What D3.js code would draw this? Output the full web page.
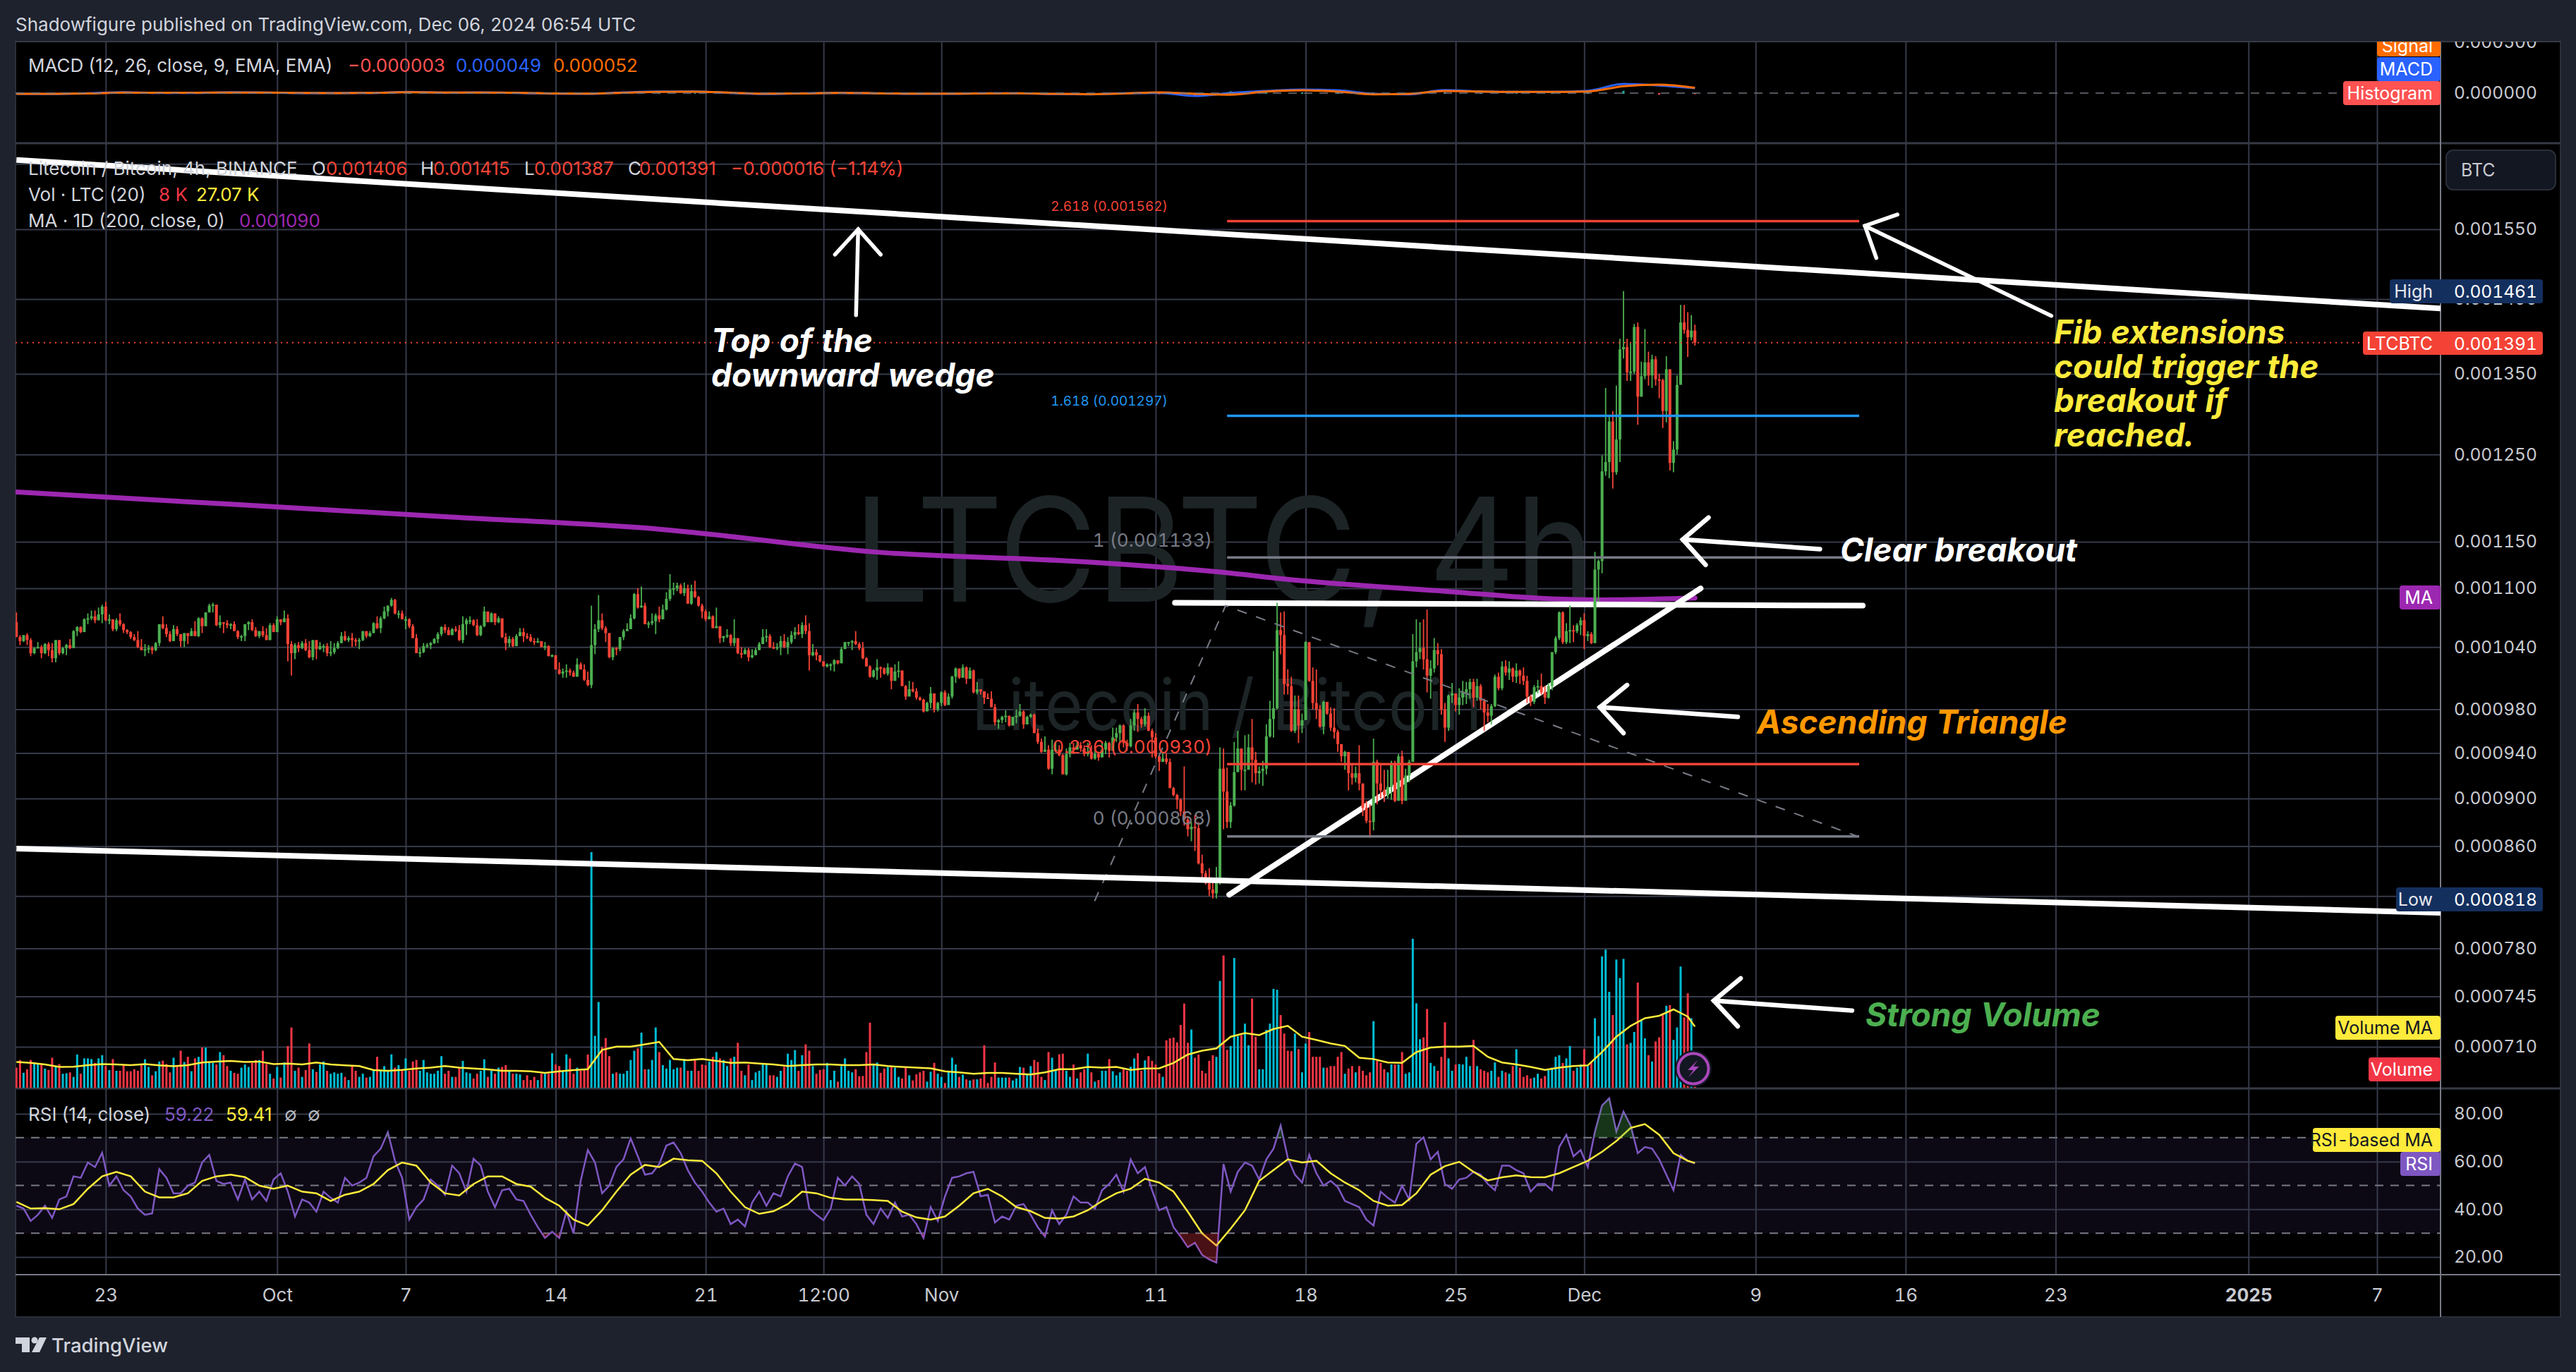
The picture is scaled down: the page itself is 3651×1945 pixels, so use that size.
<!DOCTYPE html>
<html>
<head>
<meta charset="utf-8">
<script src="https://cdn.jsdelivr.net/npm/d3@7"></script>
<style>
  html, body { margin: 0; padding: 0; background: #1e222d; }
  svg { display: block; }
  text { font-family: Inter, "Noto Sans", sans-serif; font-variant-numeric: tabular-nums; }
  text.legend { font-variant-numeric: normal; }
</style>
</head>
<body>
<svg id="chart" width="3651" height="1945"></svg>
<script>
// all prices in millionths of a BTC, volume in thousand LTC
var firstOpen = 1065;
var closes = [
1050,1046,1052,1047,1034,1039,1040,1034,1043,1037,
1029,1047,1034,1039,1042,1039,1056,1060,1055,1068,
1069,1071,1067,1073,1081,1067,1068,1058,1067,1063,
1057,1055,1050,1047,1040,1037,1038,1039,1037,1044,
1063,1059,1053,1046,1058,1053,1046,1054,1051,1056,
1051,1069,1061,1075,1082,1083,1062,1065,1064,1062,
1063,1056,1050,1051,1063,1065,1057,1051,1056,1052,
1047,1062,1055,1068,1065,1069,1043,1034,1042,1039,
1044,1037,1030,1047,1038,1041,1041,1034,1035,1039,
1044,1051,1047,1049,1047,1046,1047,1056,1051,1054,
1064,1059,1069,1076,1082,1088,1074,1074,1068,1068,
1061,1049,1034,1035,1041,1042,1044,1048,1053,1060,
1057,1052,1058,1057,1047,1063,1067,1067,1062,1052,
1061,1076,1065,1074,1065,1069,1050,1044,1048,1041,
1051,1055,1051,1050,1046,1045,1046,1040,1041,1031,
1032,1018,1014,1016,1017,1015,1011,1023,1018,1008,
1003,1042,1058,1067,1059,1054,1030,1039,1038,1050,
1056,1058,1069,1094,1080,1082,1063,1064,1066,1072,
1068,1078,1089,1099,1100,1103,1095,1100,1084,1097,
1091,1082,1076,1068,1071,1059,1061,1049,1051,1052,
1044,1049,1034,1033,1037,1030,1032,1037,1043,1050,
1051,1040,1039,1040,1046,1040,1045,1052,1055,1053,
1062,1056,1032,1035,1032,1026,1021,1023,1023,1027,
1024,1038,1045,1045,1046,1043,1039,1029,1021,1011,
1017,1020,1019,1014,1020,1007,1016,1017,1002,992,
999,997,991,989,978,986,995,980,986,996,
984,992,1011,1019,1010,1020,1009,1017,996,999,
997,991,990,982,968,970,973,974,965,973,
974,978,966,973,975,958,950,941,943,926,
943,943,938,921,939,945,943,947,944,939,
941,935,939,936,943,949,942,954,958,965,
949,946,965,977,971,966,974,960,954,937,
932,935,932,909,903,899,889,882,874,876,
875,846,838,830,825,822,834,926,906,880,
894,923,944,925,925,945,934,922,924,926,
955,971,981,1057,1052,1004,1002,960,980,965,
970,1045,1007,986,980,964,987,976,963,959,
948,937,941,922,918,922,913,892,881,880,
932,913,907,903,910,931,898,937,898,920,
932,1026,1035,1039,1028,1012,1019,1037,1033,980,
963,993,995,984,991,996,999,1006,991,1002,
988,977,974,983,1011,1000,1021,1015,1019,1011,
1017,1012,1007,992,987,1001,1002,996,991,1002,
1035,1049,1075,1045,1056,1057,1056,1062,1067,1051,
1053,1044,1120,1129,1230,1241,1290,1229,1268,1382,
1385,1352,1353,1412,1321,1347,1365,1348,1369,1343,
1342,1303,1356,1240,1256,1336,1418,1408,1398,1407,
1391];
var highs = [
1075,1052,1052,1054,1049,1040,1045,1042,1044,1045,
1044,1047,1047,1040,1043,1048,1057,1061,1061,1069,
1074,1077,1077,1080,1083,1086,1073,1067,1069,1074,
1064,1058,1056,1053,1056,1048,1043,1042,1041,1045,
1063,1071,1063,1056,1062,1061,1051,1054,1053,1059,
1066,1070,1070,1075,1084,1085,1083,1072,1065,1067,
1064,1066,1057,1052,1063,1066,1068,1060,1056,1061,
1059,1064,1064,1071,1068,1077,1073,1046,1044,1045,
1046,1048,1046,1047,1047,1045,1043,1044,1046,1044,
1046,1055,1056,1051,1054,1049,1049,1056,1056,1056,
1065,1071,1071,1081,1082,1090,1089,1077,1077,1071,
1069,1063,1053,1039,1044,1044,1045,1049,1055,1061,
1063,1060,1059,1061,1062,1071,1069,1071,1068,1068,
1062,1081,1076,1075,1074,1071,1065,1054,1051,1050,
1053,1059,1059,1054,1053,1049,1049,1045,1045,1042,
1033,1032,1025,1019,1023,1019,1017,1029,1025,1023,
1016,1082,1063,1093,1074,1061,1054,1040,1040,1050,
1058,1064,1073,1095,1100,1102,1085,1066,1074,1074,
1081,1083,1096,1115,1106,1106,1105,1106,1104,1104,
1108,1092,1084,1078,1076,1072,1080,1061,1051,1058,
1053,1068,1048,1040,1039,1039,1038,1039,1045,1058,
1058,1053,1045,1044,1051,1053,1050,1056,1060,1063,
1065,1072,1064,1043,1038,1032,1026,1024,1024,1028,
1027,1040,1045,1045,1047,1056,1045,1045,1030,1022,
1018,1028,1021,1020,1024,1020,1023,1026,1017,1003,
1007,1006,1000,992,990,987,1001,995,987,997,
998,995,1012,1020,1018,1023,1021,1020,1018,1006,
999,997,995,997,985,971,974,979,974,973,
980,985,979,974,976,976,962,953,955,947,
952,950,947,939,944,949,949,951,950,947,
949,947,944,941,950,951,950,963,963,966,
966,952,971,980,985,973,981,977,962,958,
938,941,940,935,910,904,900,928,884,880,
886,880,853,840,842,834,843,945,944,927,
897,950,960,944,956,957,971,941,928,933,
966,988,1036,1085,1075,1076,1018,1011,993,993,
976,1046,1044,1020,1018,984,988,987,982,981,
961,948,942,938,929,928,947,913,898,895,
953,934,931,925,925,933,933,939,942,926,
934,1053,1068,1065,1068,1078,1027,1049,1044,1038,
986,994,1005,995,1000,1007,1006,1009,1009,1009,
1004,990,985,985,1013,1015,1026,1027,1026,1020,
1024,1018,1020,1012,994,1003,1008,1014,1002,1005,
1035,1051,1076,1076,1064,1082,1062,1064,1070,1074,
1056,1055,1139,1131,1249,1332,1297,1303,1335,1396,
1461,1396,1391,1416,1418,1366,1409,1379,1375,1373,
1350,1344,1373,1356,1266,1348,1442,1442,1432,1428,
1415];
var lows = [
1050,1042,1045,1042,1031,1033,1039,1029,1033,1031,
1025,1025,1032,1033,1032,1038,1040,1051,1054,1056,
1063,1067,1064,1067,1064,1066,1063,1056,1056,1061,
1054,1053,1048,1046,1039,1037,1031,1034,1033,1036,
1041,1058,1050,1045,1046,1051,1040,1040,1043,1052,
1051,1050,1054,1061,1075,1075,1061,1059,1054,1059,
1058,1056,1048,1046,1046,1057,1056,1050,1049,1050,
1047,1047,1055,1055,1062,1065,1026,1012,1028,1035,
1038,1036,1029,1027,1028,1037,1035,1031,1031,1033,
1038,1044,1046,1045,1040,1041,1038,1046,1049,1050,
1054,1058,1054,1068,1071,1081,1073,1069,1068,1058,
1059,1049,1034,1030,1034,1039,1038,1043,1044,1051,
1054,1052,1052,1055,1046,1044,1052,1063,1061,1051,
1051,1060,1065,1065,1062,1064,1049,1037,1040,1040,
1041,1051,1045,1048,1045,1042,1044,1040,1037,1031,
1030,1018,1013,1010,1010,1012,1011,1011,1018,1007,
1002,1000,1033,1055,1057,1045,1029,1027,1032,1036,
1047,1057,1058,1068,1079,1080,1063,1059,1062,1053,
1065,1068,1077,1087,1093,1097,1094,1092,1084,1083,
1090,1081,1069,1066,1068,1059,1059,1044,1045,1049,
1041,1041,1033,1029,1033,1026,1029,1032,1037,1043,
1045,1039,1038,1037,1032,1039,1033,1043,1048,1052,
1049,1053,1017,1031,1027,1025,1021,1020,1017,1016,
1023,1025,1039,1041,1037,1042,1037,1028,1021,1010,
1010,1008,1010,1013,1012,999,1007,1010,1002,989,
994,996,989,988,977,979,981,977,978,983,
983,985,990,1005,1009,1011,1004,1010,995,994,
994,985,990,982,965,962,967,968,964,965,
967,973,962,966,972,958,948,940,941,925,
921,941,937,921,920,936,939,943,941,937,
937,934,934,933,938,939,936,943,950,949,
945,942,945,960,959,963,964,960,936,935,
924,932,930,909,902,891,885,877,868,864,
856,845,834,829,820,818,818,829,874,875,
875,893,923,907,907,927,914,912,913,911,
921,954,954,980,1033,994,994,959,958,949,
958,970,1006,980,971,963,957,975,960,953,
941,932,925,907,912,914,907,885,879,867,
873,895,900,897,900,899,897,899,895,900,
914,932,1020,1028,1018,996,990,1015,1022,975,
950,960,986,978,975,984,985,990,982,988,
980,960,968,966,982,998,998,1012,1008,1006,
1005,1004,1003,986,983,985,995,994,985,990,
998,1033,1047,1043,1043,1044,1045,1054,1052,1038,
1046,1043,1044,1086,1116,1225,1222,1210,1226,1241,
1370,1341,1341,1350,1286,1321,1343,1335,1332,1335,
1319,1282,1289,1231,1229,1250,1346,1403,1372,1394,
1387];
var volumes = [
8.9,12.3,6.6,8.2,12.3,11,10.3,10.3,8.5,7.9,
13.3,9.6,10.5,6.2,6.4,6.8,4.8,14.7,6.2,13,
13,12.7,11,13,14.4,9.6,7.8,12.7,7.5,7.5,
10,7.3,7.3,8.2,7.5,10,12.6,9.2,5.5,7.3,
11.6,12,10.5,6.8,13.3,10,16.4,11.4,13.7,7.3,
13,13.7,17.8,17.8,11.6,11,10.3,15.8,14.4,9.6,
7.5,6.6,6.2,8.9,10.3,9.2,11,12.3,12.3,16.4,
10.5,6.2,4.1,9.2,4.5,11.2,18.5,26.7,7.5,8.9,
4.8,7.8,19.6,8.2,
7,10.3,11.6,7.5,6.2,6.8,6.2,6.6,4.8,3.4,9.6,
7.5,4.8,6.2,4.5,4.8,7.5,13.7,7.5,9.6,7.5,
14.8,8.9,10,7.5,13,7.5,11.6,12.3,7.5,12.3,
6.8,6.2,6.2,7.5,14,6.2,7.5,4.8,4.8,8.9,
11.9,6.8,6.4,4.1,6.2,7.5,12.6,4.8,7.5,6.2,
8.9,9.2,10,7.5,6.2,6.2,5.9,3.4,5.5,3.4,
4.8,3.4,6.2,6.2,6.2,15.3,10.3,9.6,7.5,14.8,
13,6.2,8.9,7.5,8.2,14.7,
104.4,
23,38,18,22,14,6.2,6.8,6.2,6.2,7.5,
12.3,16.4,17.4,24.4,8.2,8.2,12.3,26.7,15.8,10,
8.5,12.3,8.2,8.9,8.9,12.7,7.5,7.5,12.3,7.5,
10.3,10,11.6,13.7,15.8,13,12.3,9.6,13,13.7,
19.9,7.5,5.5,10.3,3.4,6.8,7.5,10.3,10.3,5.5,
5.5,4.8,7.5,9.2,15.1,12.3,16.7,7.5,14.4,19.2,
16.4,9.6,6.2,7.9,8.2,11,3.4,7.5,2.7,9.6,13,
7.5,6.8,8.2,5.1,5.2,15.8,28.8,10.3,11.2,6.6,
8.5,9.2,9.6,8.9,4.8,4.1,9.2,5.5,3.2,5.9,
6.8,7.5,2.7,7.1,11,6.2,4.8,2.1,7.5,13.3,
10.3,4.8,5.8,3.7,3.2,3.7,3.7,4.1,18.8,2.1,
4.8,11.2,4.5,4.5,4.5,4.5,3.2,4.1,9.2,8.9,
6.2,9.6,12.3,11.4,4.8,3.4,15.8,13.3,7.5,14.8,
15.1,7.5,4.8,10.3,4.1,6.8,8.2,15.1,6.8,2.7,
3.4,7.5,7.5,12.7,7.3,5.5,6.8,8.2,7.5,9.3,
13,15.3,7.5,12.1,14,11.9,10.3,6.4,4.8,21,
21.9,22.2,20.1,27.8,37.3,19.9,25.8,13.3,14.7,7.5,
6.4,11.9,14.4,13.7,47.3,58.6,16.8,18.5,57.5,22.9,
23.3,28.4,18.8,39.5,22.6,8.2,8.2,25.6,28.4,43.8,
43.4,32.2,24,16.4,16.2,24,17.1,6.8,19.6,24.7,
13.7,13.7,13.7,8.9,8.9,9.6,9.6,13.7,15.8,6.2,
8.5,9.6,6.8,9.6,7.5,5.5,6.8,29.5,11.9,11,
8.2,6.8,10.3,10.3,10.3,15.8,6.2,6.8,66,37.4,
21.5,22.3,34.9,11,9.6,7.5,13.7,29,13,7.5,
10.3,10.5,10.3,13.7,9.6,21.2,9.6,8.2,7.5,6.8,
7.5,11.2,4.8,7.5,6.8,6.2,9.6,17.1,8.9,4.8,
5.5,4.1,4.5,6.2,4.1,5.2,7.8,8.9,13.7,14.4,
11,13,18.5,7.5,8.9,10.3,17.1,9.6,11.6,30.8,
22.9,58.2,61.2,42.5,32.2,56.8,48.6,57.1,19.2,19.9,
24.7,46.6,30.1,21.9,14.4,11.6,20.5,22.3,32.2,36.3,
36.6,21.2,26.7,53.7,31.2,41.8,30.8,8];
// read every 4th bar, last point is the legend value
var volumeMa = [
11.4,11,10.3,9.2,9.3,10,10.5,10.3,10,10.5,
9.9,9.5,10,11.2,11.6,11.9,11.4,11.6,10.5,10.7,
10.3,11.2,10.3,9.9,9.6,7.8,7.5,7.9,8.5,8.9,
9.6,8.9,8.5,8.1,7.5,7.5,7.3,6.6,7.3,7.8,
8.2,16.8,18.2,18.2,19.2,20.3,12.7,12.2,12.7,11.9,
11,11.2,10.7,10.3,9.6,10,10.3,10.3,10,
10,10.3,9.6,9.2,8.9,8.6,7.3,6.8,6.2,6.6,
6.6,6.2,5.9,6.8,8.2,8.2,9.2,8.9,9.2,7.9,
8.5,8.6,11,14.7,16.4,17.4,22.6,24.2,23.3,26,
27.4,22.6,21.2,19.6,18.5,13.3,12.7,11.2,11,15.8,
17.8,18.2,18.2,18.5,13.7,11.2,10.3,9.2,7.9,8.9,
9.6,9.9,15.8,22.6,27.4,30.8,31.9,34.7,31.5,27.07];
// read every 2nd bar
var rsi = [
41.5,40.3,35.1,37.7,41.5,36.4,44.1,45.4,53.8,53.2,
59.6,57.7,63.7,49.9,53.8,48,45.4,40.3,37.7,38.3,
56.8,53.2,46.7,46.7,49.9,51.2,59.6,62.8,51.9,50.6,
51.2,44.1,52.5,44.1,47.4,43.5,52.5,55.1,47.4,37,
44.1,42.8,39,47.4,44.8,42.8,53.2,49.9,51.2,53.2,
62.2,65.4,72.3,60.3,53.2,35.7,40.9,44.1,52.5,49.9,
46.1,58.3,55.1,47.4,61.2,58.3,47.4,40.9,48,48.6,
44.1,43.5,37.7,32.5,28,30.6,28,39,29.9,51.9,
64.8,59.6,46.7,49.9,57.7,61,69.7,62.2,54.5,55.1,
59,66.7,68,63.5,56.4,51.2,47.4,42.8,39,40.3,
33.8,35.7,32.8,42.8,47.4,41.5,46.7,45.4,53.8,59.2,
57.7,40.3,37.7,35.4,40.3,53.2,50,
53.8,50.6,37.7,33.8,40.3,36.4,42.8,37,37.7,33.8,
28,40.9,35.1,45.4,53.2,53.8,55.1,55.7,45.4,46.1,
34.5,37,35.7,41.5,42.2,37.7,32.5,28.6,39.6,33.8,
37.7,45.4,42.8,42.8,40.3,48,50.6,54.5,47.4,60.9,
55.1,57.7,48,39.6,40.9,32.5,28.6,24.1,26,20.9,
19,17.7,59,47.4,55.7,59.6,58.3,52.5,60.9,65.4,
75.1,61.5,54.5,51.2,62.8,55.1,49.9,51.9,49.3,43.5,
42.2,40.9,35.7,33.2,47.4,44.8,42.8,49.9,44.1,67.4,
70.2,60.9,64.1,50.6,48.6,52.5,53.2,55.7,54.5,50.6,
48,58.3,58.3,56.4,55.1,47.4,50.6,50.6,48,66.1,
71.2,62.2,64.8,57.7,72.5,83.5,86.5,72.5,80.9,
75.1,63.5,66.1,65.4,60.9,54.5,48,62.8,60.3,59.22];
// read every 4th bar, last point is the legend value
var rsiMa = [
43.1,40.3,40.5,40,42.2,48.6,53.8,55.7,53.8,47.4,
45,45,46.7,51.9,53.8,54.5,53.5,49.9,48.6,49.9,
47.4,46.7,43.5,46.1,47.4,50.6,56.4,59.6,58.3,51.2,
46.7,45.8,50.6,53.8,53.8,50.6,49.5,44.8,41.5,35.7,
33.2,39.6,47.4,54.5,58.6,57.7,61.2,60.6,60.3,55.1,
47.4,40.9,38.1,39.2,42.2,47.4,46.7,44.8,44.1,
44.1,43.9,43.5,39,36.6,35.7,37,41.5,46.7,48.6,
45.4,40.9,39.2,36.4,36.1,37,39.6,43.5,46.7,48.6,
52.8,51.2,47.4,39,29.9,24.8,31.9,39.6,51.9,56.4,
60.9,59.6,60.3,55.1,51.2,48,43.5,41.5,41.8,46.7,
54.5,58.1,59.9,55.7,52.1,53.4,54.2,53.5,53.4,55.1,
57.7,60.3,64.1,68.6,74.1,75.7,71.2,63.5,60.3,59.41];
// read every 10th bar, in millionths
var macd = [-7,-9,-2,9,2,2,9,5,0,0,2,12,5,7,2,-5,-7,7,16,16,2,-9,-2,2,-2,-7,-7,-2,-2,-9,-12,-2,2,-28,2,21,35,28,-7,-12,30,16,12,12,23,90,75,49];
var macdSignal = [-7,-7,-4,5,3,3,6,5,1,0,2,8,6,6,3,-3,-6,3,12,14,4,-6,-3,1,-1,-5,-6,-3,-2,-7,-10,-4,7,-7,-16,16,28,16,-12,-7,21,16,12,12,16,67,83,52];
// 1D moving average, picked at a few bars
var maBars = [0,60,120,180,240,300,335,360,400,430,442,470];
var maValues = [1206,1192,1178,1164,1139,1128,1118,1108,1097,1089,1088,1090];

var priceTicks = [1650,1550,1450,1350,1250,1150,1100,1040,980,940,900,860,820,780,745,710];
var rsiTicks = [20,40,60,80];
var rsiBands = [70,50,30];
var dateTicks = ["2024-09-23","2024-10-01","2024-10-07","2024-10-14","2024-10-21","2024-10-26T12:00Z","2024-11-01","2024-11-11","2024-11-18","2024-11-25","2024-12-01","2024-12-09","2024-12-16","2024-12-23","2025-01-01","2025-01-07"];
var dateLabels = ["23","Oct","7","14","21","12:00","Nov","11","18","25","Dec","9","16","23","2025","7"];

// fibonacci levels: level, price, colour
var fibLevels = ["2.618","1.618","1","0.236","0"];
var fibPrices = [1562,1297,1133,930,868];
var fibColors = ["#f44336","#2196f3","#787b86","#f44336","#787b86"];
var fibStartBar = 339, fibEndBar = 516;

// hand drawn lines as [bar, price]
var wedgeTop = [[0,1656],[678.8,1437]];
var wedgeBottom = [[0,858],[678.8,807]];
var triangleTop = [[324.4,1085],[517,1082]];
var triangleRise = [[339.6,821],[471.6,1100]];
var fibGuide = [[301.9,816],[338.6,1082],[515.6,868]];
// arrows: tail, tip, barb, barb
var arrows = [
  [[235.1,1428],[235.7,1550],[229.2,1513],[242,1513]],
  [[569.8,1427],[517.6,1555],[526.7,1572],[520.8,1508]],
  [[505,1142],[466.6,1152.6],[473.8,1177],[473,1125]],
  [[482,973],[443.4,982],[451,1003],[450,958]],
  [[514,735],[475.3,742],[482.8,758],[482,724]]
];

var left = 22, right = 3459, paneTop = 59, axisY = 1807, chartBottom = 1867, scaleRight = 3629;
var macdBottom = 203, mainBottom = 1543;
var fourHours = 4 * 3600 * 1000;
var firstBar = Date.UTC(2024, 8, 18, 20);

var green = "#4caf50", red = "#f44336", white = "#ffffff";
var gridColor = "#363a4a", lineGrey = "#787b86", labelColor = "#c8cad1";

var svg = d3.select("#chart");

var time = d3.scaleUtc().domain([new Date("2024-10-07"), new Date("2025-01-07")]).range([575, 3369]);
function barX(i) { return time(new Date(firstBar + i * fourHours)); }
var yPrice = d3.scaleLog().domain([1550, 710]).range([325, 1484]);
var yVolume = d3.scaleLinear().domain([0, 104.4]).range([1542, 1208]);
var yMacd = d3.scaleLinear().domain([0, 500]).range([132, 60]);
var yRsi = d3.scaleLinear().domain([20, 80]).range([1782, 1579]);

// backgrounds
svg.append("rect").attr("width", 3651).attr("height", 1945).attr("fill", "#1e222d");
svg.append("rect").attr("x", left).attr("y", paneTop).attr("width", scaleRight - left).attr("height", chartBottom - paneTop)
  .attr("fill", "#000").attr("stroke", "#2a2e39").attr("stroke-width", 2);

svg.append("defs").append("clipPath").attr("id", "paneClip").append("rect")
  .attr("x", left).attr("y", paneTop).attr("width", right - left).attr("height", axisY - paneTop);
svg.select("defs").append("clipPath").attr("id", "scaleClip").append("rect")
  .attr("x", left).attr("y", paneTop).attr("width", scaleRight - left).attr("height", chartBottom - paneTop);
svg.select("defs").append("clipPath").attr("id", "aboveBand").append("rect")
  .attr("x", left).attr("y", mainBottom).attr("width", right - left).attr("height", yRsi(70) - mainBottom);
svg.select("defs").append("clipPath").attr("id", "belowBand").append("rect")
  .attr("x", left).attr("y", yRsi(30)).attr("width", right - left).attr("height", axisY - yRsi(30));

// rsi band sits under the grid
svg.append("rect").attr("x", left).attr("y", yRsi(70)).attr("width", right - left).attr("height", yRsi(30) - yRsi(70))
  .attr("fill", "#7e57c2").attr("fill-opacity", 0.1);

// grid
function gridStyle(g) {
  g.select(".domain").remove();
  g.selectAll("line").attr("stroke", gridColor).attr("stroke-width", 2);
}
svg.append("g").attr("transform", "translate(0," + axisY + ")")
  .call(d3.axisBottom(time).tickValues(dateTicks.map(function(d){ return new Date(d); }))
    .tickFormat(function(d, i){ return dateLabels[i]; }).tickSize(-(axisY - paneTop)).tickPadding(20))
  .call(gridStyle)
  .call(function(g){
    g.selectAll("text").attr("font-size", 26).attr("fill", labelColor).attr("font-family", "Inter")
      .attr("font-weight", function(d, i){ return dateLabels[i] === "2025" ? 700 : 400; });
  });
svg.append("g").attr("transform", "translate(" + right + ",0)")
  .call(d3.axisLeft(yPrice).tickValues(priceTicks).tickSize(right - left).tickFormat(""))
  .call(gridStyle);
svg.append("g").attr("transform", "translate(" + right + ",0)")
  .call(d3.axisLeft(yRsi).tickValues(rsiTicks).tickSize(right - left).tickFormat(""))
  .call(gridStyle);

// rsi dashed levels
svg.append("g").selectAll("line").data(rsiBands).join("line")
  .attr("x1", left).attr("x2", right)
  .attr("y1", function(d){ return yRsi(d); }).attr("y2", function(d){ return yRsi(d); })
  .attr("stroke", lineGrey).attr("stroke-width", 2).attr("stroke-dasharray", "12 10");

// pane separators and scale edge
var seps = [macdBottom, mainBottom];
svg.append("g").selectAll("line").data(seps).join("line")
  .attr("x1", left).attr("x2", scaleRight).attr("y1", function(d){ return d; }).attr("y2", function(d){ return d; })
  .attr("stroke", "#363a45").attr("stroke-width", 3);
svg.append("line").attr("x1", left).attr("x2", scaleRight).attr("y1", axisY).attr("y2", axisY)
  .attr("stroke", lineGrey).attr("stroke-width", 2);
svg.append("line").attr("x1", right).attr("x2", right).attr("y1", paneTop).attr("y2", chartBottom)
  .attr("stroke", lineGrey).attr("stroke-width", 2);
svg.append("line").attr("x1", left).attr("x2", scaleRight).attr("y1", paneTop).attr("y2", paneTop)
  .attr("stroke", "#363a45").attr("stroke-width", 2);

// watermark
svg.append("text").attr("x", 1210).attr("y", 853).attr("font-size", 205)
  .attr("textLength", 1050).attr("lengthAdjust", "spacingAndGlyphs")
  .attr("fill", "#1c2426").text("LTCBTC, 4h");
svg.append("text").attr("x", 1377).attr("y", 1035).attr("font-size", 100)
  .attr("textLength", 723).attr("lengthAdjust", "spacingAndGlyphs")
  .attr("fill", "#1c2426").text("Litecoin / Bitcoin");

var pane = svg.append("g").attr("clip-path", "url(#paneClip)");
var priceLine = d3.line().x(function(d){ return barX(d[0]); }).y(function(d){ return yPrice(d[1]); });

// macd pane
svg.append("line").attr("x1", left).attr("x2", right).attr("y1", yMacd(0)).attr("y2", yMacd(0))
  .attr("stroke", lineGrey).attr("stroke-width", 2).attr("stroke-dasharray", "12 10").attr("stroke-opacity", 0.7);
pane.append("g").selectAll("rect").data(macd).join("rect")
  .attr("x", function(d, i){ return barX(i * 10) - 1.5; }).attr("width", 3)
  .attr("y", function(d, i){ return Math.min(yMacd(0), yMacd(d - macdSignal[i])); })
  .attr("height", function(d, i){ return Math.abs(yMacd(0) - yMacd(d - macdSignal[i])) + 1; })
  .attr("fill", function(d, i){ return d >= macdSignal[i] ? "#26a69a" : "#ff5252"; });
function macdPath(color, values) {
  pane.append("path").datum(values).attr("fill", "none").attr("stroke", color).attr("stroke-width", 3)
    .attr("d", d3.line().x(function(d, i){ return barX(i * 10); }).y(function(d){ return yMacd(d); }).curve(d3.curveMonotoneX));
}
macdPath("#2962ff", macd);
macdPath("#ff6d00", macdSignal);

// volume
pane.append("g").selectAll("rect").data(volumes).join("rect")
  .attr("x", function(d, i){ return barX(i) - 1.5; }).attr("width", 3)
  .attr("y", function(d){ return yVolume(d); }).attr("height", function(d){ return yVolume(0) - yVolume(d); })
  .attr("fill", function(d, i){ return closes[i] >= (i ? closes[i - 1] : firstOpen) ? "#00bcd4" : "#f23645"; });
function everyFourth(values) {
  return values.map(function(v, i){ return [i === values.length - 1 ? 470 : i * 4, v]; });
}
pane.append("path").datum(everyFourth(volumeMa)).attr("fill", "none").attr("stroke", "#ffeb3b").attr("stroke-width", 2.5)
  .attr("d", d3.line().x(function(d){ return barX(d[0]); }).y(function(d){ return yVolume(d[1]); }));

// drawings below the candles
pane.append("path").datum(d3.zip(maBars, maValues)).attr("fill", "none").attr("stroke", "#9c27b0")
  .attr("stroke-width", 7).attr("stroke-linecap", "round")
  .attr("d", d3.line().x(function(d){ return barX(d[0]); }).y(function(d){ return yPrice(d[1]); }).curve(d3.curveMonotoneX));
[triangleTop, triangleRise].forEach(function(pts){
  pane.append("path").datum(pts).attr("fill", "none").attr("stroke", white).attr("stroke-width", 8)
    .attr("stroke-linecap", "round").attr("d", priceLine);
});

// candles
var opens = closes.map(function(c, i){ return i ? closes[i - 1] : firstOpen; });
function candleColor(i) { return closes[i] >= opens[i] ? green : red; }
var candles = pane.append("g");
candles.selectAll("line").data(closes).join("line")
  .attr("x1", function(d, i){ return barX(i); }).attr("x2", function(d, i){ return barX(i); })
  .attr("y1", function(d, i){ return yPrice(highs[i]); }).attr("y2", function(d, i){ return yPrice(lows[i]); })
  .attr("stroke", function(d, i){ return candleColor(i); }).attr("stroke-width", 1.8);
candles.selectAll("rect").data(closes).join("rect")
  .attr("x", function(d, i){ return barX(i) - 2; }).attr("width", 4)
  .attr("y", function(d, i){ return yPrice(Math.max(opens[i], d)); })
  .attr("height", function(d, i){ return Math.max(2, Math.abs(yPrice(opens[i]) - yPrice(d))); })
  .attr("fill", function(d, i){ return candleColor(i); });

// last price line
svg.append("line").attr("x1", left).attr("x2", 3349).attr("y1", yPrice(closes[470])).attr("y2", yPrice(closes[470]))
  .attr("stroke", red).attr("stroke-width", 2).attr("stroke-dasharray", "2 6");

// fib levels and guide
pane.append("path").datum(fibGuide).attr("fill", "none").attr("stroke", lineGrey).attr("stroke-width", 2)
  .attr("stroke-dasharray", "14 14").attr("d", priceLine);
pane.append("g").selectAll("line").data(fibPrices).join("line")
  .attr("x1", barX(fibStartBar)).attr("x2", barX(fibEndBar))
  .attr("y1", function(d){ return yPrice(d); }).attr("y2", function(d){ return yPrice(d); })
  .attr("stroke", function(d, i){ return fibColors[i]; }).attr("stroke-width", 3.5);
svg.append("g").selectAll("text").data(fibPrices).join("text")
  .attr("x", function(d, i){ return i < 2 ? 1655 : 1718; })
  .attr("y", function(d, i){ return yPrice(d) - (i === 4 ? 17 : 15); })
  .attr("text-anchor", "end").attr("font-size", function(d, i){ return i < 2 ? 19 : 26; })
  .attr("fill", function(d, i){ return fibColors[i]; })
  .text(function(d, i){ return fibLevels[i] + " (" + (d / 1e6).toFixed(6) + ")"; });

// wedge lines sit above the candles
[wedgeTop, wedgeBottom].forEach(function(pts){
  pane.append("path").datum(pts).attr("fill", "none").attr("stroke", white).attr("stroke-width", 8)
    .attr("d", priceLine);
});

// rsi pane
var rsiPoints = rsi.map(function(v, i){ return [i * 2, v]; });
function rsiFill(level, clip, color) {
  svg.append("path").datum(rsiPoints).attr("clip-path", "url(#" + clip + ")").attr("fill", color).attr("fill-opacity", 0.3)
    .attr("d", d3.area().x(function(d){ return barX(d[0]); }).y0(yRsi(level)).y1(function(d){ return yRsi(d[1]); }));
}
rsiFill(70, "aboveBand", green);
rsiFill(30, "belowBand", "#f23645");
pane.append("path").datum(rsiPoints).attr("fill", "none").attr("stroke", "#7e57c2").attr("stroke-width", 2.5)
  .attr("d", d3.line().x(function(d){ return barX(d[0]); }).y(function(d){ return yRsi(d[1]); }));
pane.append("path").datum(everyFourth(rsiMa)).attr("fill", "none").attr("stroke", "#ffeb3b").attr("stroke-width", 2.5)
  .attr("d", d3.line().x(function(d){ return barX(d[0]); }).y(function(d){ return yRsi(d[1]); }));

// arrows
arrows.forEach(function(a, n){
  var w = n === 0 || n === 1 ? 5.5 : 6.5;
  var tail = [a[0], a[1]], head = [a[2], a[1], a[3]];
  [tail, head].forEach(function(pts){
    pane.append("path").datum(pts).attr("fill", "none").attr("stroke", white).attr("stroke-width", w)
      .attr("stroke-linecap", "round").attr("stroke-linejoin", "miter").attr("d", priceLine);
  });
});

// annotation texts
function note(lines, x, y, color) {
  svg.append("g").selectAll("text").data(lines).join("text")
    .attr("x", x).attr("y", function(d, i){ return y + i * 48.5; })
    .attr("font-size", 46).attr("font-weight", 700).attr("font-style", "italic").attr("fill", color)
    .text(function(d){ return d; });
}
note(["Top of the", "downward wedge"], 1008, 499, white);
note(["Fib extensions", "could trigger the", "breakout if", "reached."], 2911, 487, "#ffeb3b");
note(["Clear breakout"], 2608, 796, white);
note(["Ascending Triangle"], 2490, 1040, "#ff9800");
note(["Strong Volume"], 2644, 1455, green);

// bolt badge
svg.append("circle").attr("cx", 2400).attr("cy", 1515).attr("r", 26).attr("fill", "#131722");
svg.append("circle").attr("cx", 2400).attr("cy", 1515).attr("r", 21.5).attr("fill", "#131722")
  .attr("stroke", "#ab47bc").attr("stroke-width", 4);
svg.append("path").attr("d", "M2406 1503 L2392 1517 L2400 1517 L2393 1527 L2408 1512 L2400 1512 Z").attr("fill", "#ab47bc");

// price scales
var scaleG = svg.append("g").attr("clip-path", "url(#scaleClip)");
function scaleLabels(scale, ticks, fmt) {
  scaleG.append("g").attr("transform", "translate(" + right + ",0)")
    .call(d3.axisRight(scale).tickValues(ticks).tickSize(0).tickPadding(19).tickFormat(fmt))
    .call(function(g){
      g.select(".domain").remove();
      g.selectAll("text").attr("font-size", 24.5).attr("fill", labelColor).attr("font-family", "Inter");
    });
}
scaleLabels(yPrice, priceTicks, function(d){ return (d / 1e6).toFixed(6); });
scaleLabels(yMacd, [0, 500], function(d){ return (d / 1e6).toFixed(6); });
scaleLabels(yRsi, rsiTicks, function(d){ return d.toFixed(2); });

// tags on the scale
function tag(x0, x1, y0, y1, fill, label, color, value) {
  var g = scaleG.append("g");
  g.append("rect").attr("x", x0).attr("y", y0).attr("width", x1 - x0).attr("height", y1 - y0)
    .attr("rx", 4).attr("fill", fill);
  g.append("text").attr("x", 3448).attr("y", (y0 + y1) / 2 + 9).attr("text-anchor", "end")
    .attr("font-size", 25).attr("fill", color).text(label);
  if (value) {
    g.append("text").attr("x", 3478).attr("y", (y0 + y1) / 2 + 9).attr("font-size", 24.5).attr("fill", "#fff").text(value);
  }
}
tag(3369, right, 50, 80, "#ff6d00", "Signal", "#fff");
tag(3369, right, 81, 115, "#2962ff", "MACD", "#fff");
tag(3321, right, 115, 149, "#ff5252", "Histogram", "#fff");
tag(3387, 3604, 396, 430, "#132f5e", "High", "#e6e8ee", "0.001461");
tag(3349, 3604, 470, 503, "#f44336", "LTCBTC", "#fff", "0.001391");
tag(3396, 3604, 1258, 1292, "#132f5e", "Low", "#e6e8ee", "0.000818");
tag(3401, right, 830, 864, "#9c27b0", "MA", "#fff");
tag(3310, right, 1440, 1474, "#ffeb3b", "Volume MA", "#131722");
tag(3357, right, 1499, 1533, "#f23645", "Volume", "#fff");
tag(3278, right, 1599, 1633, "#ffeb3b", "RSI-based MA", "#131722");
tag(3402, right, 1633, 1667, "#7e57c2", "RSI", "#fff");

// currency button
svg.append("rect").attr("x", 3467).attr("y", 213).attr("width", 155).attr("height", 56).attr("rx", 10)
  .attr("fill", "#131722").attr("stroke", "#2a2e39").attr("stroke-width", 2);
svg.append("text").attr("x", 3488).attr("y", 250).attr("font-size", 25).attr("fill", "#c8cad1").text("BTC");

// header and legends
function legend(x, y, str, color) {
  svg.append("text").attr("class", "legend").attr("x", x).attr("y", y).attr("font-size", 26).attr("fill", color).text(str);
}
legend(22, 44, "Shadowfigure published on TradingView.com, Dec 06, 2024 06:54 UTC", "#d1d4dc");
var legendGrey = "#d1d4dc";
legend(40, 102, "MACD (12, 26, close, 9, EMA, EMA)", legendGrey);
legend(493, 102, "\u22120.000003", "#ff5252");
legend(646, 102, "0.000049", "#2962ff");
legend(784, 102, "0.000052", "#ff6d00");
legend(40, 248, "Litecoin / Bitcoin, 4h, BINANCE", legendGrey);
legend(442, 248, "O", legendGrey); legend(462, 248, "0.001406", red);
legend(596, 248, "H", legendGrey); legend(614, 248, "0.001415", red);
legend(743, 248, "L", legendGrey); legend(757, 248, "0.001387", red);
legend(890, 248, "C", legendGrey); legend(906, 248, "0.001391", red);
legend(1036, 248, "\u22120.000016 (\u22121.14%)", red);
legend(40, 285, "Vol \u00b7 LTC (20)", legendGrey);
legend(225, 285, "8 K", "#f23645");
legend(278, 285, "27.07 K", "#ffeb3b");
legend(40, 322, "MA \u00b7 1D (200, close, 0)", legendGrey);
legend(339, 322, "0.001090", "#9c27b0");
legend(40, 1589, "RSI (14, close)", legendGrey);
legend(233, 1589, "59.22", "#7e57c2");
legend(320, 1589, "59.41", "#ffeb3b");
legend(403, 1589, "\u2205", "#b2b5be");
legend(436, 1589, "\u2205", "#b2b5be");

// logo
svg.append("path").attr("fill", "#d1d4dc")
  .attr("d", "M22 1896 H42 V1917 H31 V1905 H22 Z M56 1896 H66 L56 1917 H45 Z");
svg.append("circle").attr("cx", 49).attr("cy", 1900).attr("r", 4.5).attr("fill", "#d1d4dc");
svg.append("text").attr("x", 73).attr("y", 1917).attr("font-size", 27.5).attr("font-weight", 500)
  .attr("fill", "#d1d4dc").text("TradingView");
</script>
</body>
</html>
